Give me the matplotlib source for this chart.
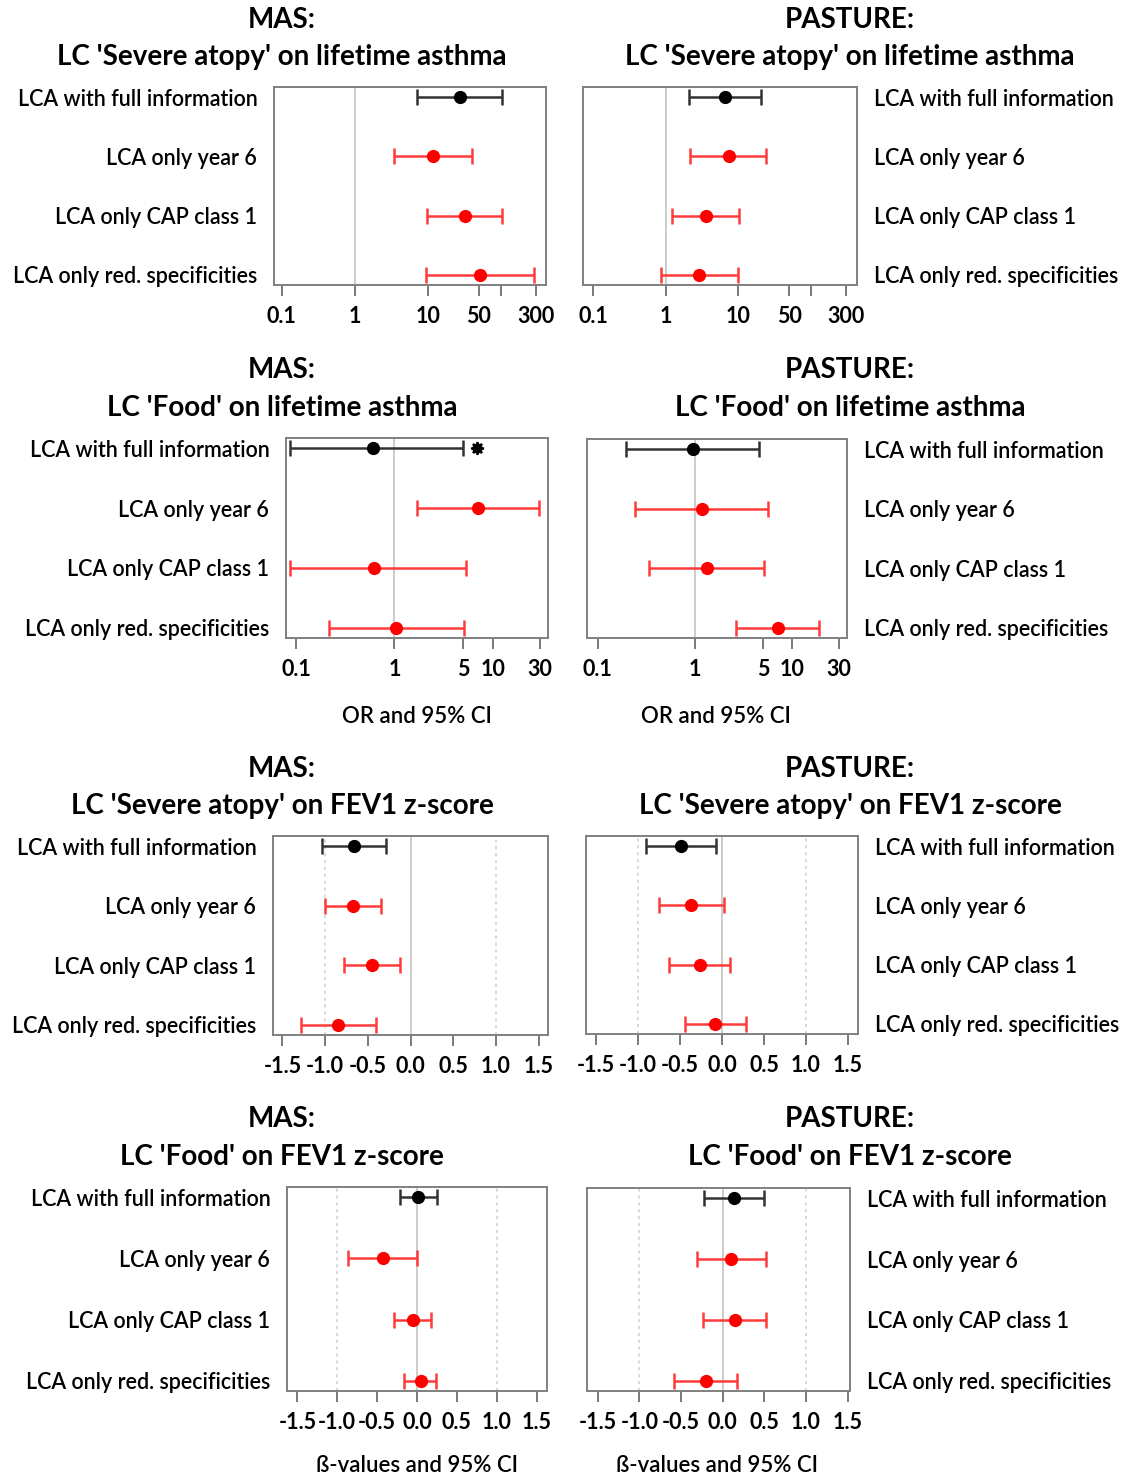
import matplotlib
matplotlib.use("Agg")
import matplotlib.pyplot as plt
import numpy as np

plt.rcParams['font.family'] = ['Lato', 'DejaVu Sans']

W, H = 1124, 1479

rows = ["LCA with full information", "LCA only year 6", "LCA only CAP class 1",
        "LCA only red. specificities"]
colors = ["black", "red", "red", "red"]

# ---- data: point estimate, lower CI, upper CI (rows top to bottom) ----
mas_atopy_asthma_est = [27.4, 11.8, 32.5, 52.0]
mas_atopy_asthma_lo = [7.2, 3.46, 9.6, 9.4]
mas_atopy_asthma_hi = [104.0, 40.0, 104.0, 286.0]

pas_atopy_asthma_est = [6.56, 7.3, 3.59, 2.9]
pas_atopy_asthma_lo = [2.05, 2.14, 1.21, 0.86]
pas_atopy_asthma_hi = [20.5, 24.0, 10.2, 10.0]

mas_food_asthma_est = [0.60, 7.15, 0.62, 1.03]
mas_food_asthma_lo = [0.087, 1.70, 0.087, 0.216]
mas_food_asthma_hi = [4.94, 29.9, 5.3, 5.1]
mas_food_asthma_star = 7.0

pas_food_asthma_est = [0.96, 1.17, 1.32, 7.15]
pas_food_asthma_lo = [0.198, 0.241, 0.34, 2.67]
pas_food_asthma_hi = [4.57, 5.68, 5.15, 18.7]

mas_atopy_fev_est = [-0.661, -0.673, -0.45, -0.844]
mas_atopy_fev_lo = [-1.036, -1.0, -0.782, -1.282]
mas_atopy_fev_hi = [-0.29, -0.34, -0.122, -0.399]

pas_atopy_fev_est = [-0.493, -0.369, -0.267, -0.08]
pas_atopy_fev_lo = [-0.901, -0.755, -0.636, -0.437]
pas_atopy_fev_hi = [-0.071, 0.028, 0.091, 0.281]

mas_food_fev_est = [0.017, -0.429, -0.054, 0.05]
mas_food_fev_lo = [-0.208, -0.862, -0.291, -0.158]
mas_food_fev_hi = [0.254, -0.004, 0.175, 0.242]

pas_food_fev_est = [0.137, 0.1, 0.145, -0.2]
pas_food_fev_lo = [-0.225, -0.312, -0.234, -0.58]
pas_food_fev_hi = [0.5, 0.516, 0.516, 0.175]

or_ticks_atopy = [0.1, 1, 10, 50, 100, 300]
or_labels_atopy = ["0.1", "1", "10", "50", "", "300"]
or_ticks_food = [0.1, 1, 5, 10, 30]
or_labels_food = ["0.1", "1", "5", "10", "30"]
beta_ticks = [-1.5, -1.0, -0.5, 0.0, 0.5, 1.0, 1.5]
beta_labels = ["-1.5", "-1.0", "-0.5", "0.0", "0.5", "1.0", "1.5"]

fig = plt.figure(figsize=(W / 100, H / 100), dpi=100)


def add_ax(x0, y0, x1, y1):
    return fig.add_axes([x0 / W, 1 - y1 / H, (x1 - x0) / W, (y1 - y0) / H])


def panel(box, est, lo, hi, kind, ticks, tlabels, xlim, side):
    ax = add_ax(*box)
    ypos = np.arange(len(rows))[::-1] + 1
    if kind == "log":
        ax.set_xscale("log")
        ax.axvline(1, color="#c8c8c8", lw=1.3, zorder=0)
    else:
        ax.axvline(0, color="#c8c8c8", lw=1.3, zorder=0)
        for v in (-1, 1):
            ax.axvline(v, color="#cfcfcf", lw=1.1, ls=(0, (2, 2.5)), zorder=0)
    for i in range(len(rows)):
        c = colors[i]
        lc = "#333333" if c == "black" else "#ff3b3b"
        ax.errorbar([est[i]], [ypos[i]],
                    xerr=[[est[i] - lo[i]], [hi[i] - est[i]]],
                    fmt="o", color=c, ecolor=lc, elinewidth=1.8,
                    capsize=6, capthick=1.8, markersize=8.5, zorder=3)
    ax.set_xlim(*xlim)
    ax.set_ylim(0.83, 4.17)
    ax.set_xticks(ticks)
    ax.set_xticklabels(tlabels, fontsize=15.5, fontweight="bold")
    ax.xaxis.set_minor_locator(matplotlib.ticker.NullLocator())
    ax.tick_params(axis="x", length=8, width=1.3, color="#707070", pad=7)
    ax.set_yticks(ypos)
    ax.set_yticklabels(rows, fontsize=15.5, fontweight="semibold")
    if side == "right":
        ax.yaxis.tick_right()
    ax.tick_params(axis="y", length=0, pad=12)
    for s in ax.spines.values():
        s.set_color("#808080")
        s.set_linewidth(1.4)
    return ax


panel((274, 87, 546, 285), mas_atopy_asthma_est, mas_atopy_asthma_lo, mas_atopy_asthma_hi,
      "log", or_ticks_atopy, or_labels_atopy, (0.078, 415), "left")
panel((583, 87, 857, 285), pas_atopy_asthma_est, pas_atopy_asthma_lo, pas_atopy_asthma_hi,
      "log", or_ticks_atopy, or_labels_atopy, (0.072, 430), "right")
ax3 = panel((286, 438, 548, 638), mas_food_asthma_est, mas_food_asthma_lo, mas_food_asthma_hi,
            "log", or_ticks_food, or_labels_food, (0.079, 36.5), "left")
ax3.plot([mas_food_asthma_star], [4], marker=(8, 1, 0), color="black", markersize=9,
         markeredgewidth=1.5, zorder=4)
panel((587, 439, 847, 638), pas_food_asthma_est, pas_food_asthma_lo, pas_food_asthma_hi,
      "log", or_ticks_food, or_labels_food, (0.078, 36.5), "right")
panel((273, 836, 548, 1035), mas_atopy_fev_est, mas_atopy_fev_lo, mas_atopy_fev_hi,
      "lin", beta_ticks, beta_labels, (-1.61, 1.61), "left")
panel((586, 836, 858, 1034), pas_atopy_fev_est, pas_atopy_fev_lo, pas_atopy_fev_hi,
      "lin", beta_ticks, beta_labels, (-1.62, 1.62), "right")
panel((287, 1187, 547, 1391), mas_food_fev_est, mas_food_fev_lo, mas_food_fev_hi,
      "lin", beta_ticks, beta_labels, (-1.63, 1.63), "left")
panel((587, 1188, 850, 1391), pas_food_fev_est, pas_food_fev_lo, pas_food_fev_hi,
      "lin", beta_ticks, beta_labels, (-1.63, 1.53), "right")


def ftext(x, y, s, **kw):
    fig.text(x / W, 1 - y / H, s, ha="center", va="center", **kw)


titles = [
    (20, 57, "MAS:", "LC 'Severe atopy' on lifetime asthma", "PASTURE:", "LC 'Severe atopy' on lifetime asthma"),
    (370, 408, "MAS:", "LC 'Food' on lifetime asthma", "PASTURE:", "LC 'Food' on lifetime asthma"),
    (769, 806, "MAS:", "LC 'Severe atopy' on FEV1 z-score", "PASTURE:", "LC 'Severe atopy' on FEV1 z-score"),
    (1119, 1157, "MAS:", "LC 'Food' on FEV1 z-score", "PASTURE:", "LC 'Food' on FEV1 z-score"),
]
for y1, y2, a1, a2, b1, b2 in titles:
    ftext(282, y1, a1, fontsize=20, fontweight="bold")
    ftext(282, y2, a2, fontsize=20, fontweight="bold")
    ftext(850, y1, b1, fontsize=20, fontweight="bold")
    ftext(850, y2, b2, fontsize=20, fontweight="bold")

ftext(417, 717, "OR and 95% CI", fontsize=16, fontweight="semibold")
ftext(716, 717, "OR and 95% CI", fontsize=16, fontweight="semibold")
ftext(417, 1466, "ß-values and 95% CI", fontsize=16, fontweight="semibold")
ftext(717, 1466, "ß-values and 95% CI", fontsize=16, fontweight="semibold")

fig.savefig("out.png", dpi=100)
